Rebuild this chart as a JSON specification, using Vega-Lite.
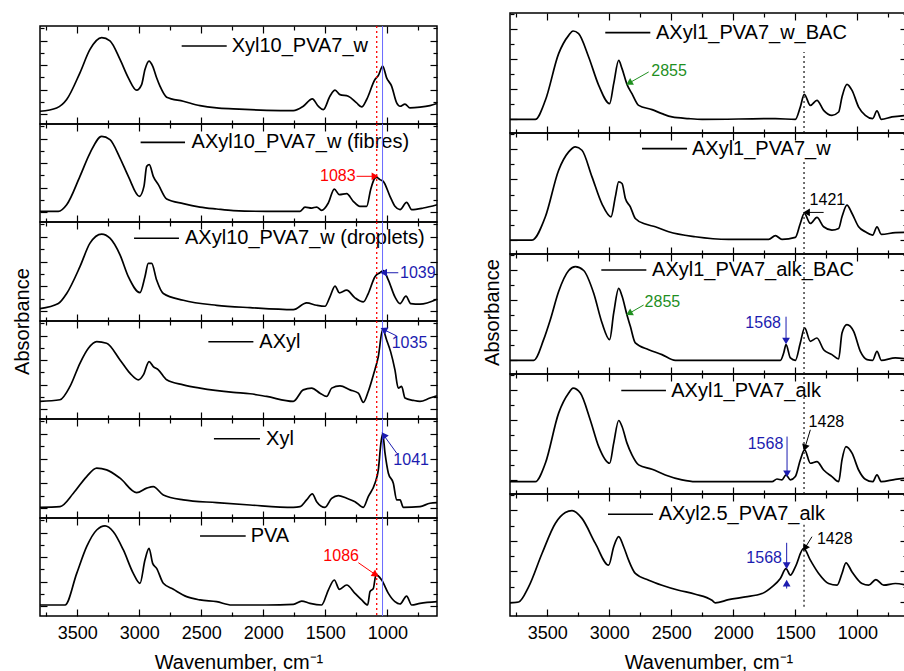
{
"$schema":"https://vega.github.io/schema/vega-lite/v6.json",
"autosize":{"type":"none"},
"padding":{"left":40,"top":13,"right":864,"bottom":658},
"config":{"font":"Liberation Sans","view":{"stroke":"#000","strokeWidth":1.5},
"axis":{"domain":false,"grid":false,"tickColor":"#000","tickWidth":1.2,"labelColor":"#000","titleColor":"#000","labelFontSize":18,"titleFontSize":20,"titleFontWeight":"normal","labelFont":"Liberation Sans","titleFont":"Liberation Sans"},
"text":{"font":"Liberation Sans"}},
"datasets":{
"S":[
{"p":"L1","x":3800,"y":1.04},{"p":"L1","x":3666,"y":1.31},{"p":"L1","x":3585,"y":2.0},{"p":"L1","x":3478,"y":4.18},{"p":"L1","x":3397,"y":6.09},{"p":"L1","x":3303,"y":7.05},{"p":"L1","x":3236,"y":6.78},{"p":"L1","x":3155,"y":5.27},{"p":"L1","x":3088,"y":3.77},{"p":"L1","x":3021,"y":2.76},{"p":"L1","x":2981,"y":3.22},{"p":"L1","x":2954,"y":4.45},{"p":"L1","x":2921,"y":5.14},{"p":"L1","x":2892,"y":4.73},{"p":"L1","x":2860,"y":3.77},{"p":"L1","x":2833,"y":3.09},{"p":"L1","x":2779,"y":2.19},{"p":"L1","x":2645,"y":1.86},{"p":"L1","x":2510,"y":1.5},{"p":"L1","x":2376,"y":1.31},{"p":"L1","x":2242,"y":1.23},{"p":"L1","x":1973,"y":1.12},{"p":"L1","x":1758,"y":1.09},{"p":"L1","x":1678,"y":1.45},{"p":"L1","x":1605,"y":2.05},{"p":"L1","x":1557,"y":1.45},{"p":"L1","x":1516,"y":1.17},{"p":"L1","x":1463,"y":2.27},{"p":"L1","x":1422,"y":2.76},{"p":"L1","x":1382,"y":2.4},{"p":"L1","x":1315,"y":2.27},{"p":"L1","x":1248,"y":1.72},{"p":"L1","x":1207,"y":1.39},{"p":"L1","x":1167,"y":2.0},{"p":"L1","x":1100,"y":3.63},{"p":"L1","x":1073,"y":3.96},{"p":"L1","x":1038,"y":4.73},{"p":"L1","x":1006,"y":3.77},{"p":"L1","x":966,"y":3.09},{"p":"L1","x":925,"y":1.72},{"p":"L1","x":898,"y":1.45},{"p":"L1","x":858,"y":1.62},{"p":"L1","x":818,"y":1.31},{"p":"L1","x":737,"y":1.37},{"p":"L1","x":657,"y":1.5},{"p":"L1","x":600,"y":1.67},
{"p":"L2","x":3800,"y":0.87},{"p":"L2","x":3652,"y":0.87},{"p":"L2","x":3585,"y":1.41},{"p":"L2","x":3478,"y":3.73},{"p":"L2","x":3397,"y":5.63},{"p":"L2","x":3303,"y":6.99},{"p":"L2","x":3236,"y":6.72},{"p":"L2","x":3155,"y":5.22},{"p":"L2","x":3088,"y":3.73},{"p":"L2","x":2999,"y":2.1},{"p":"L2","x":2962,"y":2.91},{"p":"L2","x":2940,"y":4.54},{"p":"L2","x":2919,"y":4.68},{"p":"L2","x":2887,"y":3.73},{"p":"L2","x":2846,"y":3.05},{"p":"L2","x":2779,"y":1.88},{"p":"L2","x":2645,"y":1.5},{"p":"L2","x":2510,"y":1.22},{"p":"L2","x":2376,"y":1.06},{"p":"L2","x":2242,"y":0.93},{"p":"L2","x":1973,"y":0.87},{"p":"L2","x":1704,"y":0.87},{"p":"L2","x":1664,"y":1.22},{"p":"L2","x":1610,"y":1.14},{"p":"L2","x":1570,"y":1.22},{"p":"L2","x":1530,"y":0.95},{"p":"L2","x":1476,"y":1.55},{"p":"L2","x":1428,"y":2.69},{"p":"L2","x":1387,"y":2.23},{"p":"L2","x":1328,"y":2.31},{"p":"L2","x":1275,"y":1.69},{"p":"L2","x":1221,"y":1.28},{"p":"L2","x":1167,"y":1.28},{"p":"L2","x":1135,"y":2.64},{"p":"L2","x":1100,"y":3.59},{"p":"L2","x":1085,"y":3.65},{"p":"L2","x":1060,"y":3.46},{"p":"L2","x":1033,"y":3.32},{"p":"L2","x":979,"y":2.1},{"p":"L2","x":939,"y":1.28},{"p":"L2","x":898,"y":1.01},{"p":"L2","x":845,"y":1.61},{"p":"L2","x":804,"y":1.01},{"p":"L2","x":710,"y":1.14},{"p":"L2","x":600,"y":1.41},
{"p":"L3","x":3800,"y":1.0},{"p":"L3","x":3652,"y":1.41},{"p":"L3","x":3585,"y":2.22},{"p":"L3","x":3478,"y":4.39},{"p":"L3","x":3397,"y":6.29},{"p":"L3","x":3303,"y":7.02},{"p":"L3","x":3236,"y":6.69},{"p":"L3","x":3155,"y":5.34},{"p":"L3","x":3088,"y":3.58},{"p":"L3","x":2994,"y":2.3},{"p":"L3","x":2954,"y":3.58},{"p":"L3","x":2927,"y":4.66},{"p":"L3","x":2900,"y":4.66},{"p":"L3","x":2860,"y":3.31},{"p":"L3","x":2806,"y":2.22},{"p":"L3","x":2645,"y":1.68},{"p":"L3","x":2376,"y":1.27},{"p":"L3","x":2107,"y":1.08},{"p":"L3","x":1758,"y":0.92},{"p":"L3","x":1651,"y":1.46},{"p":"L3","x":1570,"y":1.27},{"p":"L3","x":1503,"y":1.19},{"p":"L3","x":1463,"y":1.95},{"p":"L3","x":1422,"y":2.82},{"p":"L3","x":1387,"y":2.28},{"p":"L3","x":1328,"y":2.49},{"p":"L3","x":1261,"y":1.87},{"p":"L3","x":1194,"y":1.54},{"p":"L3","x":1154,"y":2.22},{"p":"L3","x":1100,"y":3.58},{"p":"L3","x":1060,"y":3.9},{"p":"L3","x":1033,"y":4.07},{"p":"L3","x":992,"y":3.31},{"p":"L3","x":939,"y":1.95},{"p":"L3","x":898,"y":1.41},{"p":"L3","x":850,"y":2.01},{"p":"L3","x":812,"y":1.41},{"p":"L3","x":737,"y":1.36},{"p":"L3","x":600,"y":1.76},
{"p":"L4","x":3800,"y":1.44},{"p":"L4","x":3639,"y":1.57},{"p":"L4","x":3558,"y":2.66},{"p":"L4","x":3478,"y":4.55},{"p":"L4","x":3410,"y":5.77},{"p":"L4","x":3343,"y":6.31},{"p":"L4","x":3263,"y":6.18},{"p":"L4","x":3155,"y":4.82},{"p":"L4","x":3075,"y":3.74},{"p":"L4","x":3007,"y":3.2},{"p":"L4","x":2967,"y":3.6},{"p":"L4","x":2921,"y":4.69},{"p":"L4","x":2887,"y":4.28},{"p":"L4","x":2846,"y":4.01},{"p":"L4","x":2779,"y":3.2},{"p":"L4","x":2645,"y":2.79},{"p":"L4","x":2510,"y":2.52},{"p":"L4","x":2242,"y":2.17},{"p":"L4","x":2107,"y":2.06},{"p":"L4","x":1973,"y":1.84},{"p":"L4","x":1758,"y":1.44},{"p":"L4","x":1678,"y":2.38},{"p":"L4","x":1610,"y":2.52},{"p":"L4","x":1543,"y":2.11},{"p":"L4","x":1489,"y":1.84},{"p":"L4","x":1449,"y":2.52},{"p":"L4","x":1382,"y":2.71},{"p":"L4","x":1301,"y":2.38},{"p":"L4","x":1234,"y":2.11},{"p":"L4","x":1194,"y":1.36},{"p":"L4","x":1154,"y":2.25},{"p":"L4","x":1113,"y":3.6},{"p":"L4","x":1073,"y":5.1},{"p":"L4","x":1038,"y":7.32},{"p":"L4","x":1006,"y":6.45},{"p":"L4","x":974,"y":5.5},{"p":"L4","x":939,"y":4.01},{"p":"L4","x":912,"y":2.52},{"p":"L4","x":885,"y":2.66},{"p":"L4","x":858,"y":1.71},{"p":"L4","x":791,"y":1.52},{"p":"L4","x":737,"y":1.44},{"p":"L4","x":657,"y":1.71},{"p":"L4","x":600,"y":1.9},
{"p":"L5","x":3800,"y":0.86},{"p":"L5","x":3639,"y":0.92},{"p":"L5","x":3531,"y":2.0},{"p":"L5","x":3424,"y":3.35},{"p":"L5","x":3343,"y":4.03},{"p":"L5","x":3263,"y":3.89},{"p":"L5","x":3155,"y":3.22},{"p":"L5","x":3021,"y":2.05},{"p":"L5","x":2940,"y":2.41},{"p":"L5","x":2887,"y":2.54},{"p":"L5","x":2806,"y":1.86},{"p":"L5","x":2645,"y":1.46},{"p":"L5","x":2376,"y":1.24},{"p":"L5","x":2107,"y":1.05},{"p":"L5","x":1758,"y":0.86},{"p":"L5","x":1704,"y":0.92},{"p":"L5","x":1651,"y":1.46},{"p":"L5","x":1605,"y":1.95},{"p":"L5","x":1570,"y":1.32},{"p":"L5","x":1503,"y":0.86},{"p":"L5","x":1449,"y":1.59},{"p":"L5","x":1395,"y":1.81},{"p":"L5","x":1328,"y":1.59},{"p":"L5","x":1261,"y":1.32},{"p":"L5","x":1194,"y":0.86},{"p":"L5","x":1154,"y":1.73},{"p":"L5","x":1100,"y":2.81},{"p":"L5","x":1073,"y":3.89},{"p":"L5","x":1052,"y":6.05},{"p":"L5","x":1038,"y":6.81},{"p":"L5","x":1019,"y":5.24},{"p":"L5","x":992,"y":3.62},{"p":"L5","x":952,"y":2.81},{"p":"L5","x":925,"y":1.46},{"p":"L5","x":898,"y":1.46},{"p":"L5","x":871,"y":0.86},{"p":"L5","x":737,"y":0.92},{"p":"L5","x":657,"y":1.19},{"p":"L5","x":600,"y":1.24},
{"p":"L6","x":3800,"y":0.9},{"p":"L6","x":3598,"y":0.9},{"p":"L6","x":3504,"y":3.48},{"p":"L6","x":3424,"y":5.66},{"p":"L6","x":3343,"y":7.02},{"p":"L6","x":3276,"y":7.35},{"p":"L6","x":3209,"y":6.88},{"p":"L6","x":3128,"y":5.39},{"p":"L6","x":3048,"y":3.48},{"p":"L6","x":2994,"y":2.67},{"p":"L6","x":2954,"y":4.57},{"p":"L6","x":2921,"y":5.52},{"p":"L6","x":2892,"y":4.3},{"p":"L6","x":2860,"y":3.89},{"p":"L6","x":2806,"y":2.67},{"p":"L6","x":2725,"y":2.18},{"p":"L6","x":2618,"y":1.58},{"p":"L6","x":2510,"y":1.31},{"p":"L6","x":2376,"y":1.17},{"p":"L6","x":2255,"y":0.9},{"p":"L6","x":1973,"y":0.9},{"p":"L6","x":1758,"y":0.95},{"p":"L6","x":1691,"y":1.22},{"p":"L6","x":1624,"y":1.03},{"p":"L6","x":1530,"y":0.9},{"p":"L6","x":1476,"y":2.12},{"p":"L6","x":1428,"y":2.94},{"p":"L6","x":1387,"y":2.18},{"p":"L6","x":1328,"y":2.53},{"p":"L6","x":1261,"y":1.85},{"p":"L6","x":1207,"y":1.31},{"p":"L6","x":1159,"y":0.9},{"p":"L6","x":1140,"y":1.99},{"p":"L6","x":1113,"y":2.26},{"p":"L6","x":1092,"y":3.35},{"p":"L6","x":1046,"y":2.94},{"p":"L6","x":992,"y":1.85},{"p":"L6","x":939,"y":1.17},{"p":"L6","x":898,"y":0.98},{"p":"L6","x":845,"y":1.63},{"p":"L6","x":804,"y":0.9},{"p":"L6","x":737,"y":1.03},{"p":"L6","x":600,"y":1.17},
{"p":"R1","x":3800,"y":0.91},{"p":"R1","x":3596,"y":0.91},{"p":"R1","x":3515,"y":2.18},{"p":"R1","x":3408,"y":5.29},{"p":"R1","x":3327,"y":6.51},{"p":"R1","x":3292,"y":6.8},{"p":"R1","x":3247,"y":6.62},{"p":"R1","x":3166,"y":5.07},{"p":"R1","x":3085,"y":3.18},{"p":"R1","x":2997,"y":1.96},{"p":"R1","x":2964,"y":3.29},{"p":"R1","x":2924,"y":4.84},{"p":"R1","x":2897,"y":4.29},{"p":"R1","x":2857,"y":3.24},{"p":"R1","x":2817,"y":2.62},{"p":"R1","x":2763,"y":1.84},{"p":"R1","x":2655,"y":1.56},{"p":"R1","x":2575,"y":1.29},{"p":"R1","x":2494,"y":1.07},{"p":"R1","x":2360,"y":0.96},{"p":"R1","x":2252,"y":0.91},{"p":"R1","x":1661,"y":0.96},{"p":"R1","x":1500,"y":0.91},{"p":"R1","x":1460,"y":1.73},{"p":"R1","x":1428,"y":2.58},{"p":"R1","x":1379,"y":1.84},{"p":"R1","x":1326,"y":2.18},{"p":"R1","x":1272,"y":1.51},{"p":"R1","x":1205,"y":1.18},{"p":"R1","x":1151,"y":1.4},{"p":"R1","x":1124,"y":2.4},{"p":"R1","x":1084,"y":3.24},{"p":"R1","x":1043,"y":2.84},{"p":"R1","x":990,"y":1.73},{"p":"R1","x":936,"y":1.18},{"p":"R1","x":877,"y":0.96},{"p":"R1","x":842,"y":1.47},{"p":"R1","x":807,"y":0.91},{"p":"R1","x":721,"y":1.07},{"p":"R1","x":600,"y":1.18},
{"p":"R2","x":3800,"y":0.92},{"p":"R2","x":3623,"y":0.92},{"p":"R2","x":3515,"y":2.46},{"p":"R2","x":3408,"y":5.54},{"p":"R2","x":3327,"y":6.75},{"p":"R2","x":3273,"y":7.08},{"p":"R2","x":3220,"y":6.86},{"p":"R2","x":3139,"y":5.1},{"p":"R2","x":3058,"y":3.3},{"p":"R2","x":2986,"y":2.46},{"p":"R2","x":2951,"y":3.78},{"p":"R2","x":2924,"y":4.77},{"p":"R2","x":2897,"y":4.66},{"p":"R2","x":2870,"y":3.67},{"p":"R2","x":2830,"y":3.12},{"p":"R2","x":2790,"y":2.35},{"p":"R2","x":2709,"y":1.98},{"p":"R2","x":2629,"y":1.8},{"p":"R2","x":2521,"y":1.47},{"p":"R2","x":2306,"y":1.14},{"p":"R2","x":2038,"y":0.97},{"p":"R2","x":1715,"y":0.97},{"p":"R2","x":1661,"y":1.21},{"p":"R2","x":1608,"y":0.97},{"p":"R2","x":1500,"y":1.1},{"p":"R2","x":1460,"y":2.02},{"p":"R2","x":1428,"y":2.68},{"p":"R2","x":1379,"y":2.02},{"p":"R2","x":1326,"y":2.42},{"p":"R2","x":1272,"y":1.8},{"p":"R2","x":1205,"y":1.58},{"p":"R2","x":1151,"y":1.69},{"p":"R2","x":1124,"y":2.46},{"p":"R2","x":1084,"y":3.23},{"p":"R2","x":1043,"y":2.68},{"p":"R2","x":990,"y":1.8},{"p":"R2","x":936,"y":1.47},{"p":"R2","x":877,"y":1.25},{"p":"R2","x":842,"y":1.8},{"p":"R2","x":807,"y":1.3},{"p":"R2","x":694,"y":1.41},{"p":"R2","x":600,"y":1.43},
{"p":"R3","x":3800,"y":0.91},{"p":"R3","x":3609,"y":0.91},{"p":"R3","x":3529,"y":2.29},{"p":"R3","x":3475,"y":3.62},{"p":"R3","x":3408,"y":5.5},{"p":"R3","x":3327,"y":6.9},{"p":"R3","x":3273,"y":7.16},{"p":"R3","x":3206,"y":6.9},{"p":"R3","x":3126,"y":5.4},{"p":"R3","x":3058,"y":3.4},{"p":"R3","x":2997,"y":2.29},{"p":"R3","x":2964,"y":4.07},{"p":"R3","x":2924,"y":5.71},{"p":"R3","x":2897,"y":5.2},{"p":"R3","x":2857,"y":3.93},{"p":"R3","x":2830,"y":3.18},{"p":"R3","x":2790,"y":2.07},{"p":"R3","x":2682,"y":1.62},{"p":"R3","x":2575,"y":1.29},{"p":"R3","x":2467,"y":0.91},{"p":"R3","x":1621,"y":0.91},{"p":"R3","x":1594,"y":1.4},{"p":"R3","x":1575,"y":1.96},{"p":"R3","x":1540,"y":1.07},{"p":"R3","x":1500,"y":0.91},{"p":"R3","x":1460,"y":2.07},{"p":"R3","x":1425,"y":3.07},{"p":"R3","x":1379,"y":2.18},{"p":"R3","x":1326,"y":2.4},{"p":"R3","x":1272,"y":1.62},{"p":"R3","x":1205,"y":1.29},{"p":"R3","x":1151,"y":1.0},{"p":"R3","x":1124,"y":2.73},{"p":"R3","x":1084,"y":3.29},{"p":"R3","x":1030,"y":2.84},{"p":"R3","x":976,"y":1.51},{"p":"R3","x":922,"y":0.96},{"p":"R3","x":877,"y":0.91},{"p":"R3","x":842,"y":1.51},{"p":"R3","x":807,"y":0.91},{"p":"R3","x":694,"y":1.07},{"p":"R3","x":600,"y":1.0},
{"p":"R4","x":3800,"y":0.82},{"p":"R4","x":3596,"y":0.82},{"p":"R4","x":3515,"y":2.05},{"p":"R4","x":3408,"y":5.39},{"p":"R4","x":3327,"y":6.73},{"p":"R4","x":3292,"y":7.06},{"p":"R4","x":3233,"y":6.73},{"p":"R4","x":3153,"y":4.94},{"p":"R4","x":3085,"y":3.16},{"p":"R4","x":2997,"y":2.05},{"p":"R4","x":2964,"y":3.39},{"p":"R4","x":2924,"y":4.9},{"p":"R4","x":2897,"y":4.5},{"p":"R4","x":2857,"y":3.39},{"p":"R4","x":2817,"y":2.61},{"p":"R4","x":2763,"y":1.94},{"p":"R4","x":2655,"y":1.65},{"p":"R4","x":2548,"y":1.27},{"p":"R4","x":2414,"y":0.94},{"p":"R4","x":2306,"y":0.82},{"p":"R4","x":1688,"y":0.82},{"p":"R4","x":1648,"y":1.0},{"p":"R4","x":1608,"y":0.94},{"p":"R4","x":1575,"y":1.27},{"p":"R4","x":1540,"y":0.94},{"p":"R4","x":1500,"y":1.16},{"p":"R4","x":1460,"y":2.27},{"p":"R4","x":1425,"y":2.94},{"p":"R4","x":1379,"y":2.05},{"p":"R4","x":1326,"y":2.16},{"p":"R4","x":1272,"y":1.6},{"p":"R4","x":1205,"y":1.16},{"p":"R4","x":1151,"y":0.82},{"p":"R4","x":1124,"y":2.27},{"p":"R4","x":1092,"y":3.16},{"p":"R4","x":1043,"y":2.72},{"p":"R4","x":990,"y":1.6},{"p":"R4","x":936,"y":0.98},{"p":"R4","x":877,"y":0.82},{"p":"R4","x":842,"y":1.27},{"p":"R4","x":807,"y":0.82},{"p":"R4","x":694,"y":0.98},{"p":"R4","x":600,"y":1.05},
{"p":"R5","x":3800,"y":0.86},{"p":"R5","x":3730,"y":0.92},{"p":"R5","x":3650,"y":1.91},{"p":"R5","x":3542,"y":4.1},{"p":"R5","x":3435,"y":6.07},{"p":"R5","x":3354,"y":6.78},{"p":"R5","x":3300,"y":6.91},{"p":"R5","x":3220,"y":6.4},{"p":"R5","x":3112,"y":4.76},{"p":"R5","x":3005,"y":3.33},{"p":"R5","x":2964,"y":4.54},{"p":"R5","x":2924,"y":5.2},{"p":"R5","x":2884,"y":4.54},{"p":"R5","x":2844,"y":3.66},{"p":"R5","x":2790,"y":2.79},{"p":"R5","x":2682,"y":2.35},{"p":"R5","x":2575,"y":2.02},{"p":"R5","x":2441,"y":1.69},{"p":"R5","x":2306,"y":1.43},{"p":"R5","x":2172,"y":1.03},{"p":"R5","x":2145,"y":0.86},{"p":"R5","x":2038,"y":1.07},{"p":"R5","x":1903,"y":1.25},{"p":"R5","x":1769,"y":1.47},{"p":"R5","x":1688,"y":1.91},{"p":"R5","x":1621,"y":2.46},{"p":"R5","x":1575,"y":3.11},{"p":"R5","x":1540,"y":2.68},{"p":"R5","x":1500,"y":3.22},{"p":"R5","x":1433,"y":4.43},{"p":"R5","x":1379,"y":3.66},{"p":"R5","x":1312,"y":2.79},{"p":"R5","x":1232,"y":2.13},{"p":"R5","x":1164,"y":2.02},{"p":"R5","x":1124,"y":2.79},{"p":"R5","x":1092,"y":3.49},{"p":"R5","x":1043,"y":2.89},{"p":"R5","x":963,"y":2.13},{"p":"R5","x":909,"y":2.02},{"p":"R5","x":851,"y":2.39},{"p":"R5","x":788,"y":2.02},{"p":"R5","x":694,"y":2.13},{"p":"R5","x":600,"y":2.02}
],
"G":[
{"p":"L1","x":2658,"x2":2295,"tx":2255,"y":6.37,"t":"Xyl10_PVA7_w"},
{"p":"L2","x":2989,"x2":2631,"tx":2578,"y":6.5,"t":"AXyl10_PVA7_w (fibres)"},
{"p":"L3","x":3042,"x2":2680,"tx":2631,"y":6.69,"t":"AXyl10_PVA7_w (droplets)"},
{"p":"L4","x":2443,"x2":2080,"tx":2032,"y":6.31,"t":"AXyl"},
{"p":"L5","x":2398,"x2":2027,"tx":1978,"y":6.41,"t":"Xyl"},
{"p":"L6","x":2510,"x2":2142,"tx":2102,"y":6.53,"t":"PVA"},
{"p":"R1","x":3032,"x2":2669,"tx":2623,"y":6.69,"t":"AXyl1_PVA7_w_BAC"},
{"p":"R2","x":2736,"x2":2373,"tx":2333,"y":6.97,"t":"AXyl1_PVA7_w"},
{"p":"R3","x":3064,"x2":2701,"tx":2655,"y":6.93,"t":"AXyl1_PVA7_alk_BAC"},
{"p":"R4","x":2903,"x2":2543,"tx":2500,"y":6.9,"t":"AXyl1_PVA7_alk"},
{"p":"R5","x":3010,"x2":2647,"tx":2602,"y":6.67,"t":"AXyl2.5_PVA7_alk"}
],
"N":[
{"p":"L2","x":1543,"y":3.73,"t":"1083","c":"red"},
{"p":"L3","x":898,"y":3.9,"t":"1039","c":"blue"},
{"p":"L4","x":965,"y":6.18,"t":"1035","c":"blue"},
{"p":"L5","x":952,"y":4.7,"t":"1041","c":"blue"},
{"p":"L6","x":1516,"y":4.93,"t":"1086","c":"red"},
{"p":"R1","x":2661,"y":4.13,"t":"2855","c":"green"},
{"p":"R2","x":1385,"y":3.56,"t":"1421","c":"black"},
{"p":"R3","x":2715,"y":4.82,"t":"2855","c":"green"},
{"p":"R3","x":1903,"y":3.38,"t":"1568","c":"blue"},
{"p":"R4","x":1393,"y":4.83,"t":"1428","c":"black"},
{"p":"R4","x":1884,"y":3.34,"t":"1568","c":"blue"},
{"p":"R5","x":1326,"y":5.02,"t":"1428","c":"black"},
{"p":"R5","x":1895,"y":3.82,"t":"1568","c":"blue"}
],
"A":[
{"p":"L2","x":1248,"y":3.73,"x2":1100,"y2":3.73,"c":"red","ang":90},
{"p":"L3","x":912,"y":3.9,"x2":1030,"y2":3.9,"c":"blue","ang":270},
{"p":"L4","x":925,"y":6.78,"x2":1030,"y2":7.3,"c":"blue","ang":296},
{"p":"L5","x":925,"y":5.24,"x2":1030,"y2":6.7,"c":"blue","ang":324},
{"p":"L6","x":1234,"y":4.35,"x2":1095,"y2":3.37,"c":"red","ang":125},
{"p":"R1","x":2682,"y":4.07,"x2":2840,"y2":3.33,"c":"green","ang":241},
{"p":"R2","x":1272,"y":2.75,"x2":1410,"y2":2.75,"c":"black","ang":270},
{"p":"R3","x":2723,"y":4.6,"x2":2840,"y2":4.04,"c":"green","ang":241},
{"p":"R3","x":1575,"y":3.82,"x2":1575,"y2":2.2,"c":"blue","ang":180},
{"p":"R4","x":1379,"y":4.28,"x2":1423,"y2":3.08,"c":"black","ang":197},
{"p":"R4","x":1567,"y":3.83,"x2":1567,"y2":1.35,"c":"blue","ang":180},
{"p":"R5","x":1366,"y":5.2,"x2":1423,"y2":4.45,"c":"black","ang":212},
{"p":"R5","x":1570,"y":4.8,"x2":1570,"y2":3.3,"c":"blue","ang":180},
{"p":"R5","x":1570,"y":1.8,"x2":1570,"y2":2.15,"c":"blue","ang":0}
],
"D":[
{"p":"R1","x":1430,"y":0,"y2":5.4},
{"p":"R2","x":1430,"y":0,"y2":6.2},
{"p":"R3","x":1430,"y":0,"y2":8},
{"p":"R4","x":1430,"y":0,"y2":8},
{"p":"R5","x":1430,"y":0.6,"y2":6.07}
]
},
"hconcat":[
{"vconcat":[
{"width":397,"height":13,"data":{"values":[{}]},"mark":{"type":"point","opacity":0},"view":{"stroke":null}},
{"height":98,"width":397,"layer":[
{"data":{"name":"S"},"transform":[{"filter":"datum.p==='L1'"}],"mark":{"type":"line","color":"#000","strokeWidth":1.7,"interpolate":"monotone"},"encoding":{"x":{"field":"x","type":"quantitative","scale":{"domain":[600,3800],"reverse":true,"nice":false,"zero":false},"axis":{"orient":"bottom","values":[3750,3500,3250,3000,2750,2500,2250,2000,1750,1500,1250,1000,750],"tickSize":{"condition":{"test":"datum.value % 500 === 0","value":-7},"value":-4},"labels":false,"title":null}},"y":{"field":"y","type":"quantitative","scale":{"domain":[0,8],"nice":false,"zero":false},"axis":{"orient":"left","values":[0.8,1.8,2.8,3.8,4.8,5.8,6.8,7.8],"tickSize":{"condition":{"test":"round(datum.value) % 2 === 1","value":-7},"value":-4},"labels":false,"title":null}},"order":{"field":"x","sort":"descending"}}},
{"data":{"name":"G"},"transform":[{"filter":"datum.p==='L1'"}],"mark":{"type":"rule","color":"#000","strokeWidth":1.6},"encoding":{"x":{"field":"x","type":"quantitative","axis":{"orient":"top","values":[3750,3500,3250,3000,2750,2500,2250,2000,1750,1500,1250,1000,750],"tickSize":{"condition":{"test":"datum.value % 500 === 0","value":-7},"value":-4},"labels":false,"title":null}},"x2":{"field":"x2"},"y":{"field":"y","type":"quantitative","axis":{"orient":"right","values":[0.8,1.8,2.8,3.8,4.8,5.8,6.8,7.8],"tickSize":{"condition":{"test":"round(datum.value) % 2 === 1","value":-7},"value":-4},"labels":false,"title":null}}}},
{"data":{"name":"G"},"transform":[{"filter":"datum.p==='L1'"}],"mark":{"type":"text","align":"left","baseline":"middle","fontSize":20},"encoding":{"x":{"field":"tx","type":"quantitative","axis":null},"y":{"field":"y","type":"quantitative","axis":null},"text":{"field":"t"}}},
{"data":{"values":[{"x":1086}]},"mark":{"type":"rule","color":"#ff0000","strokeWidth":1.3,"strokeDash":[2,3]},"encoding":{"x":{"field":"x","type":"quantitative","axis":null}}},
{"data":{"values":[{"x":1039}]},"mark":{"type":"rule","color":"#6a6aff","strokeWidth":1},"encoding":{"x":{"field":"x","type":"quantitative","axis":null}}}
],"resolve":{"axis":{"x":"independent","y":"independent"}}},
{"height":98,"width":397,"layer":[
{"data":{"name":"S"},"transform":[{"filter":"datum.p==='L2'"}],"mark":{"type":"line","color":"#000","strokeWidth":1.7,"interpolate":"monotone"},"encoding":{"x":{"field":"x","type":"quantitative","scale":{"domain":[600,3800],"reverse":true,"nice":false,"zero":false},"axis":{"orient":"bottom","values":[3750,3500,3250,3000,2750,2500,2250,2000,1750,1500,1250,1000,750],"tickSize":{"condition":{"test":"datum.value % 500 === 0","value":-7},"value":-4},"labels":false,"title":null}},"y":{"field":"y","type":"quantitative","scale":{"domain":[0,8],"nice":false,"zero":false},"axis":{"orient":"left","values":[0.8,1.8,2.8,3.8,4.8,5.8,6.8,7.8],"tickSize":{"condition":{"test":"round(datum.value) % 2 === 1","value":-7},"value":-4},"labels":false,"title":null}},"order":{"field":"x","sort":"descending"}}},
{"data":{"name":"G"},"transform":[{"filter":"datum.p==='L2'"}],"mark":{"type":"rule","color":"#000","strokeWidth":1.6},"encoding":{"x":{"field":"x","type":"quantitative","axis":{"orient":"top","values":[3750,3500,3250,3000,2750,2500,2250,2000,1750,1500,1250,1000,750],"tickSize":{"condition":{"test":"datum.value % 500 === 0","value":-7},"value":-4},"labels":false,"title":null}},"x2":{"field":"x2"},"y":{"field":"y","type":"quantitative","axis":{"orient":"right","values":[0.8,1.8,2.8,3.8,4.8,5.8,6.8,7.8],"tickSize":{"condition":{"test":"round(datum.value) % 2 === 1","value":-7},"value":-4},"labels":false,"title":null}}}},
{"data":{"name":"G"},"transform":[{"filter":"datum.p==='L2'"}],"mark":{"type":"text","align":"left","baseline":"middle","fontSize":20},"encoding":{"x":{"field":"tx","type":"quantitative","axis":null},"y":{"field":"y","type":"quantitative","axis":null},"text":{"field":"t"}}},
{"data":{"values":[{"x":1086}]},"mark":{"type":"rule","color":"#ff0000","strokeWidth":1.3,"strokeDash":[2,3]},"encoding":{"x":{"field":"x","type":"quantitative","axis":null}}},
{"data":{"values":[{"x":1039}]},"mark":{"type":"rule","color":"#6a6aff","strokeWidth":1},"encoding":{"x":{"field":"x","type":"quantitative","axis":null}}},
{"data":{"name":"N"},"transform":[{"filter":"datum.p==='L2'"}],"mark":{"type":"text","align":"left","baseline":"middle","fontSize":16},"encoding":{"x":{"field":"x","type":"quantitative","axis":null},"y":{"field":"y","type":"quantitative","axis":null},"text":{"field":"t"},"color":{"field":"c","type":"nominal","scale":{"domain":["red","blue","green","black"],"range":["#ff0000","#1c1cb0","#1f8f1f","#000000"]},"legend":null}}},
{"data":{"name":"A"},"transform":[{"filter":"datum.p==='L2'"}],"mark":{"type":"rule","strokeWidth":1},"encoding":{"x":{"field":"x","type":"quantitative","axis":null},"y":{"field":"y","type":"quantitative","axis":null},"x2":{"field":"x2"},"y2":{"field":"y2"},"color":{"field":"c","type":"nominal","scale":{"domain":["red","blue","green","black"],"range":["#ff0000","#1c1cb0","#1f8f1f","#000000"]},"legend":null}}},
{"data":{"name":"A"},"transform":[{"filter":"datum.p==='L2'"}],"mark":{"type":"point","shape":"triangle-up","filled":true,"size":60,"opacity":1},"encoding":{"x":{"field":"x2","type":"quantitative","axis":null},"y":{"field":"y2","type":"quantitative","axis":null},"angle":{"field":"ang","type":"quantitative","scale":null},"color":{"field":"c","type":"nominal","scale":{"domain":["red","blue","green","black"],"range":["#ff0000","#1c1cb0","#1f8f1f","#000000"]},"legend":null}}}
],"resolve":{"axis":{"x":"independent","y":"independent"}}},
{"height":99,"width":397,"layer":[
{"data":{"name":"S"},"transform":[{"filter":"datum.p==='L3'"}],"mark":{"type":"line","color":"#000","strokeWidth":1.7,"interpolate":"monotone"},"encoding":{"x":{"field":"x","type":"quantitative","scale":{"domain":[600,3800],"reverse":true,"nice":false,"zero":false},"axis":{"orient":"bottom","values":[3750,3500,3250,3000,2750,2500,2250,2000,1750,1500,1250,1000,750],"tickSize":{"condition":{"test":"datum.value % 500 === 0","value":-7},"value":-4},"labels":false,"title":null}},"y":{"field":"y","type":"quantitative","scale":{"domain":[0,8],"nice":false,"zero":false},"axis":{"orient":"left","values":[0.8,1.8,2.8,3.8,4.8,5.8,6.8,7.8],"tickSize":{"condition":{"test":"round(datum.value) % 2 === 1","value":-7},"value":-4},"labels":false,"title":"Absorbance","titleX":-12,"titleY":99,"titleAngle":270,"titleAlign":"center","titleBaseline":"alphabetic"}},"order":{"field":"x","sort":"descending"}}},
{"data":{"name":"G"},"transform":[{"filter":"datum.p==='L3'"}],"mark":{"type":"rule","color":"#000","strokeWidth":1.6},"encoding":{"x":{"field":"x","type":"quantitative","axis":{"orient":"top","values":[3750,3500,3250,3000,2750,2500,2250,2000,1750,1500,1250,1000,750],"tickSize":{"condition":{"test":"datum.value % 500 === 0","value":-7},"value":-4},"labels":false,"title":null}},"x2":{"field":"x2"},"y":{"field":"y","type":"quantitative","axis":{"orient":"right","values":[0.8,1.8,2.8,3.8,4.8,5.8,6.8,7.8],"tickSize":{"condition":{"test":"round(datum.value) % 2 === 1","value":-7},"value":-4},"labels":false,"title":null}}}},
{"data":{"name":"G"},"transform":[{"filter":"datum.p==='L3'"}],"mark":{"type":"text","align":"left","baseline":"middle","fontSize":20},"encoding":{"x":{"field":"tx","type":"quantitative","axis":null},"y":{"field":"y","type":"quantitative","axis":null},"text":{"field":"t"}}},
{"data":{"values":[{"x":1086}]},"mark":{"type":"rule","color":"#ff0000","strokeWidth":1.3,"strokeDash":[2,3]},"encoding":{"x":{"field":"x","type":"quantitative","axis":null}}},
{"data":{"values":[{"x":1039}]},"mark":{"type":"rule","color":"#6a6aff","strokeWidth":1},"encoding":{"x":{"field":"x","type":"quantitative","axis":null}}},
{"data":{"name":"N"},"transform":[{"filter":"datum.p==='L3'"}],"mark":{"type":"text","align":"left","baseline":"middle","fontSize":16},"encoding":{"x":{"field":"x","type":"quantitative","axis":null},"y":{"field":"y","type":"quantitative","axis":null},"text":{"field":"t"},"color":{"field":"c","type":"nominal","scale":{"domain":["red","blue","green","black"],"range":["#ff0000","#1c1cb0","#1f8f1f","#000000"]},"legend":null}}},
{"data":{"name":"A"},"transform":[{"filter":"datum.p==='L3'"}],"mark":{"type":"rule","strokeWidth":1},"encoding":{"x":{"field":"x","type":"quantitative","axis":null},"y":{"field":"y","type":"quantitative","axis":null},"x2":{"field":"x2"},"y2":{"field":"y2"},"color":{"field":"c","type":"nominal","scale":{"domain":["red","blue","green","black"],"range":["#ff0000","#1c1cb0","#1f8f1f","#000000"]},"legend":null}}},
{"data":{"name":"A"},"transform":[{"filter":"datum.p==='L3'"}],"mark":{"type":"point","shape":"triangle-up","filled":true,"size":60,"opacity":1},"encoding":{"x":{"field":"x2","type":"quantitative","axis":null},"y":{"field":"y2","type":"quantitative","axis":null},"angle":{"field":"ang","type":"quantitative","scale":null},"color":{"field":"c","type":"nominal","scale":{"domain":["red","blue","green","black"],"range":["#ff0000","#1c1cb0","#1f8f1f","#000000"]},"legend":null}}}
],"resolve":{"axis":{"x":"independent","y":"independent"}}},
{"height":98,"width":397,"layer":[
{"data":{"name":"S"},"transform":[{"filter":"datum.p==='L4'"}],"mark":{"type":"line","color":"#000","strokeWidth":1.7,"interpolate":"monotone"},"encoding":{"x":{"field":"x","type":"quantitative","scale":{"domain":[600,3800],"reverse":true,"nice":false,"zero":false},"axis":{"orient":"bottom","values":[3750,3500,3250,3000,2750,2500,2250,2000,1750,1500,1250,1000,750],"tickSize":{"condition":{"test":"datum.value % 500 === 0","value":-7},"value":-4},"labels":false,"title":null}},"y":{"field":"y","type":"quantitative","scale":{"domain":[0,8],"nice":false,"zero":false},"axis":{"orient":"left","values":[0.8,1.8,2.8,3.8,4.8,5.8,6.8,7.8],"tickSize":{"condition":{"test":"round(datum.value) % 2 === 1","value":-7},"value":-4},"labels":false,"title":null}},"order":{"field":"x","sort":"descending"}}},
{"data":{"name":"G"},"transform":[{"filter":"datum.p==='L4'"}],"mark":{"type":"rule","color":"#000","strokeWidth":1.6},"encoding":{"x":{"field":"x","type":"quantitative","axis":{"orient":"top","values":[3750,3500,3250,3000,2750,2500,2250,2000,1750,1500,1250,1000,750],"tickSize":{"condition":{"test":"datum.value % 500 === 0","value":-7},"value":-4},"labels":false,"title":null}},"x2":{"field":"x2"},"y":{"field":"y","type":"quantitative","axis":{"orient":"right","values":[0.8,1.8,2.8,3.8,4.8,5.8,6.8,7.8],"tickSize":{"condition":{"test":"round(datum.value) % 2 === 1","value":-7},"value":-4},"labels":false,"title":null}}}},
{"data":{"name":"G"},"transform":[{"filter":"datum.p==='L4'"}],"mark":{"type":"text","align":"left","baseline":"middle","fontSize":20},"encoding":{"x":{"field":"tx","type":"quantitative","axis":null},"y":{"field":"y","type":"quantitative","axis":null},"text":{"field":"t"}}},
{"data":{"values":[{"x":1086}]},"mark":{"type":"rule","color":"#ff0000","strokeWidth":1.3,"strokeDash":[2,3]},"encoding":{"x":{"field":"x","type":"quantitative","axis":null}}},
{"data":{"values":[{"x":1039}]},"mark":{"type":"rule","color":"#6a6aff","strokeWidth":1},"encoding":{"x":{"field":"x","type":"quantitative","axis":null}}},
{"data":{"name":"N"},"transform":[{"filter":"datum.p==='L4'"}],"mark":{"type":"text","align":"left","baseline":"middle","fontSize":16},"encoding":{"x":{"field":"x","type":"quantitative","axis":null},"y":{"field":"y","type":"quantitative","axis":null},"text":{"field":"t"},"color":{"field":"c","type":"nominal","scale":{"domain":["red","blue","green","black"],"range":["#ff0000","#1c1cb0","#1f8f1f","#000000"]},"legend":null}}},
{"data":{"name":"A"},"transform":[{"filter":"datum.p==='L4'"}],"mark":{"type":"rule","strokeWidth":1},"encoding":{"x":{"field":"x","type":"quantitative","axis":null},"y":{"field":"y","type":"quantitative","axis":null},"x2":{"field":"x2"},"y2":{"field":"y2"},"color":{"field":"c","type":"nominal","scale":{"domain":["red","blue","green","black"],"range":["#ff0000","#1c1cb0","#1f8f1f","#000000"]},"legend":null}}},
{"data":{"name":"A"},"transform":[{"filter":"datum.p==='L4'"}],"mark":{"type":"point","shape":"triangle-up","filled":true,"size":60,"opacity":1},"encoding":{"x":{"field":"x2","type":"quantitative","axis":null},"y":{"field":"y2","type":"quantitative","axis":null},"angle":{"field":"ang","type":"quantitative","scale":null},"color":{"field":"c","type":"nominal","scale":{"domain":["red","blue","green","black"],"range":["#ff0000","#1c1cb0","#1f8f1f","#000000"]},"legend":null}}}
],"resolve":{"axis":{"x":"independent","y":"independent"}}},
{"height":99,"width":397,"layer":[
{"data":{"name":"S"},"transform":[{"filter":"datum.p==='L5'"}],"mark":{"type":"line","color":"#000","strokeWidth":1.7,"interpolate":"monotone"},"encoding":{"x":{"field":"x","type":"quantitative","scale":{"domain":[600,3800],"reverse":true,"nice":false,"zero":false},"axis":{"orient":"bottom","values":[3750,3500,3250,3000,2750,2500,2250,2000,1750,1500,1250,1000,750],"tickSize":{"condition":{"test":"datum.value % 500 === 0","value":-7},"value":-4},"labels":false,"title":null}},"y":{"field":"y","type":"quantitative","scale":{"domain":[0,8],"nice":false,"zero":false},"axis":{"orient":"left","values":[0.8,1.8,2.8,3.8,4.8,5.8,6.8,7.8],"tickSize":{"condition":{"test":"round(datum.value) % 2 === 1","value":-7},"value":-4},"labels":false,"title":null}},"order":{"field":"x","sort":"descending"}}},
{"data":{"name":"G"},"transform":[{"filter":"datum.p==='L5'"}],"mark":{"type":"rule","color":"#000","strokeWidth":1.6},"encoding":{"x":{"field":"x","type":"quantitative","axis":{"orient":"top","values":[3750,3500,3250,3000,2750,2500,2250,2000,1750,1500,1250,1000,750],"tickSize":{"condition":{"test":"datum.value % 500 === 0","value":-7},"value":-4},"labels":false,"title":null}},"x2":{"field":"x2"},"y":{"field":"y","type":"quantitative","axis":{"orient":"right","values":[0.8,1.8,2.8,3.8,4.8,5.8,6.8,7.8],"tickSize":{"condition":{"test":"round(datum.value) % 2 === 1","value":-7},"value":-4},"labels":false,"title":null}}}},
{"data":{"name":"G"},"transform":[{"filter":"datum.p==='L5'"}],"mark":{"type":"text","align":"left","baseline":"middle","fontSize":20},"encoding":{"x":{"field":"tx","type":"quantitative","axis":null},"y":{"field":"y","type":"quantitative","axis":null},"text":{"field":"t"}}},
{"data":{"values":[{"x":1086}]},"mark":{"type":"rule","color":"#ff0000","strokeWidth":1.3,"strokeDash":[2,3]},"encoding":{"x":{"field":"x","type":"quantitative","axis":null}}},
{"data":{"values":[{"x":1039}]},"mark":{"type":"rule","color":"#6a6aff","strokeWidth":1},"encoding":{"x":{"field":"x","type":"quantitative","axis":null}}},
{"data":{"name":"N"},"transform":[{"filter":"datum.p==='L5'"}],"mark":{"type":"text","align":"left","baseline":"middle","fontSize":16},"encoding":{"x":{"field":"x","type":"quantitative","axis":null},"y":{"field":"y","type":"quantitative","axis":null},"text":{"field":"t"},"color":{"field":"c","type":"nominal","scale":{"domain":["red","blue","green","black"],"range":["#ff0000","#1c1cb0","#1f8f1f","#000000"]},"legend":null}}},
{"data":{"name":"A"},"transform":[{"filter":"datum.p==='L5'"}],"mark":{"type":"rule","strokeWidth":1},"encoding":{"x":{"field":"x","type":"quantitative","axis":null},"y":{"field":"y","type":"quantitative","axis":null},"x2":{"field":"x2"},"y2":{"field":"y2"},"color":{"field":"c","type":"nominal","scale":{"domain":["red","blue","green","black"],"range":["#ff0000","#1c1cb0","#1f8f1f","#000000"]},"legend":null}}},
{"data":{"name":"A"},"transform":[{"filter":"datum.p==='L5'"}],"mark":{"type":"point","shape":"triangle-up","filled":true,"size":60,"opacity":1},"encoding":{"x":{"field":"x2","type":"quantitative","axis":null},"y":{"field":"y2","type":"quantitative","axis":null},"angle":{"field":"ang","type":"quantitative","scale":null},"color":{"field":"c","type":"nominal","scale":{"domain":["red","blue","green","black"],"range":["#ff0000","#1c1cb0","#1f8f1f","#000000"]},"legend":null}}}
],"resolve":{"axis":{"x":"independent","y":"independent"}}},
{"height":98,"width":397,"layer":[
{"data":{"name":"S"},"transform":[{"filter":"datum.p==='L6'"}],"mark":{"type":"line","color":"#000","strokeWidth":1.7,"interpolate":"monotone"},"encoding":{"x":{"field":"x","type":"quantitative","scale":{"domain":[600,3800],"reverse":true,"nice":false,"zero":false},"axis":{"orient":"bottom","values":[3750,3500,3250,3000,2750,2500,2250,2000,1750,1500,1250,1000,750],"tickSize":{"condition":{"test":"datum.value % 500 === 0","value":-7},"value":-4},"format":"d","labelExpr":"datum.value % 500 === 0 ? datum.label : ''","labelBaseline":"alphabetic","labelPadding":29,"title":"Wavenumber, cm⁻¹","titleX":198.5,"titleY":52,"titleAlign":"center","titleBaseline":"alphabetic"}},"y":{"field":"y","type":"quantitative","scale":{"domain":[0,8],"nice":false,"zero":false},"axis":{"orient":"left","values":[0.8,1.8,2.8,3.8,4.8,5.8,6.8,7.8],"tickSize":{"condition":{"test":"round(datum.value) % 2 === 1","value":-7},"value":-4},"labels":false,"title":null}},"order":{"field":"x","sort":"descending"}}},
{"data":{"name":"G"},"transform":[{"filter":"datum.p==='L6'"}],"mark":{"type":"rule","color":"#000","strokeWidth":1.6},"encoding":{"x":{"field":"x","type":"quantitative","axis":{"orient":"top","values":[3750,3500,3250,3000,2750,2500,2250,2000,1750,1500,1250,1000,750],"tickSize":{"condition":{"test":"datum.value % 500 === 0","value":-7},"value":-4},"labels":false,"title":null}},"x2":{"field":"x2"},"y":{"field":"y","type":"quantitative","axis":{"orient":"right","values":[0.8,1.8,2.8,3.8,4.8,5.8,6.8,7.8],"tickSize":{"condition":{"test":"round(datum.value) % 2 === 1","value":-7},"value":-4},"labels":false,"title":null}}}},
{"data":{"name":"G"},"transform":[{"filter":"datum.p==='L6'"}],"mark":{"type":"text","align":"left","baseline":"middle","fontSize":20},"encoding":{"x":{"field":"tx","type":"quantitative","axis":null},"y":{"field":"y","type":"quantitative","axis":null},"text":{"field":"t"}}},
{"data":{"values":[{"x":1086}]},"mark":{"type":"rule","color":"#ff0000","strokeWidth":1.3,"strokeDash":[2,3]},"encoding":{"x":{"field":"x","type":"quantitative","axis":null}}},
{"data":{"values":[{"x":1039}]},"mark":{"type":"rule","color":"#6a6aff","strokeWidth":1},"encoding":{"x":{"field":"x","type":"quantitative","axis":null}}},
{"data":{"name":"N"},"transform":[{"filter":"datum.p==='L6'"}],"mark":{"type":"text","align":"left","baseline":"middle","fontSize":16},"encoding":{"x":{"field":"x","type":"quantitative","axis":null},"y":{"field":"y","type":"quantitative","axis":null},"text":{"field":"t"},"color":{"field":"c","type":"nominal","scale":{"domain":["red","blue","green","black"],"range":["#ff0000","#1c1cb0","#1f8f1f","#000000"]},"legend":null}}},
{"data":{"name":"A"},"transform":[{"filter":"datum.p==='L6'"}],"mark":{"type":"rule","strokeWidth":1},"encoding":{"x":{"field":"x","type":"quantitative","axis":null},"y":{"field":"y","type":"quantitative","axis":null},"x2":{"field":"x2"},"y2":{"field":"y2"},"color":{"field":"c","type":"nominal","scale":{"domain":["red","blue","green","black"],"range":["#ff0000","#1c1cb0","#1f8f1f","#000000"]},"legend":null}}},
{"data":{"name":"A"},"transform":[{"filter":"datum.p==='L6'"}],"mark":{"type":"point","shape":"triangle-up","filled":true,"size":60,"opacity":1},"encoding":{"x":{"field":"x2","type":"quantitative","axis":null},"y":{"field":"y2","type":"quantitative","axis":null},"angle":{"field":"ang","type":"quantitative","scale":null},"color":{"field":"c","type":"nominal","scale":{"domain":["red","blue","green","black"],"range":["#ff0000","#1c1cb0","#1f8f1f","#000000"]},"legend":null}}}
],"resolve":{"axis":{"x":"independent","y":"independent"}}}
],"spacing":0,"bounds":"flush"},
{"vconcat":[
{"height":120,"width":397,"layer":[
{"data":{"name":"S"},"transform":[{"filter":"datum.p==='R1'"}],"mark":{"type":"line","color":"#000","strokeWidth":1.7,"interpolate":"monotone"},"encoding":{"x":{"field":"x","type":"quantitative","scale":{"domain":[600,3800],"reverse":true,"nice":false,"zero":false},"axis":{"orient":"bottom","values":[3750,3500,3250,3000,2750,2500,2250,2000,1750,1500,1250,1000,750],"tickSize":{"condition":{"test":"datum.value % 500 === 0","value":-7},"value":-4},"labels":false,"title":null}},"y":{"field":"y","type":"quantitative","scale":{"domain":[0,8],"nice":false,"zero":false},"axis":{"orient":"left","values":[0.93,1.93,2.93,3.93,4.93,5.93,6.93,7.93],"tickSize":{"condition":{"test":"round(datum.value) % 2 === 1","value":-7},"value":-4},"labels":false,"title":null}},"order":{"field":"x","sort":"descending"}}},
{"data":{"name":"G"},"transform":[{"filter":"datum.p==='R1'"}],"mark":{"type":"rule","color":"#000","strokeWidth":1.6},"encoding":{"x":{"field":"x","type":"quantitative","axis":{"orient":"top","values":[3750,3500,3250,3000,2750,2500,2250,2000,1750,1500,1250,1000,750],"tickSize":{"condition":{"test":"datum.value % 500 === 0","value":-7},"value":-4},"labels":false,"title":null}},"x2":{"field":"x2"},"y":{"field":"y","type":"quantitative","axis":{"orient":"right","values":[0.93,1.93,2.93,3.93,4.93,5.93,6.93,7.93],"tickSize":{"condition":{"test":"round(datum.value) % 2 === 1","value":-7},"value":-4},"labels":false,"title":null}}}},
{"data":{"name":"G"},"transform":[{"filter":"datum.p==='R1'"}],"mark":{"type":"text","align":"left","baseline":"middle","fontSize":20},"encoding":{"x":{"field":"tx","type":"quantitative","axis":null},"y":{"field":"y","type":"quantitative","axis":null},"text":{"field":"t"}}},
{"data":{"name":"D"},"transform":[{"filter":"datum.p==='R1'"}],"mark":{"type":"rule","color":"#333","strokeWidth":1.4,"strokeDash":[2,3]},"encoding":{"x":{"field":"x","type":"quantitative","axis":null},"y":{"field":"y","type":"quantitative","axis":null},"y2":{"field":"y2"}}},
{"data":{"name":"N"},"transform":[{"filter":"datum.p==='R1'"}],"mark":{"type":"text","align":"left","baseline":"middle","fontSize":16},"encoding":{"x":{"field":"x","type":"quantitative","axis":null},"y":{"field":"y","type":"quantitative","axis":null},"text":{"field":"t"},"color":{"field":"c","type":"nominal","scale":{"domain":["red","blue","green","black"],"range":["#ff0000","#1c1cb0","#1f8f1f","#000000"]},"legend":null}}},
{"data":{"name":"A"},"transform":[{"filter":"datum.p==='R1'"}],"mark":{"type":"rule","strokeWidth":1},"encoding":{"x":{"field":"x","type":"quantitative","axis":null},"y":{"field":"y","type":"quantitative","axis":null},"x2":{"field":"x2"},"y2":{"field":"y2"},"color":{"field":"c","type":"nominal","scale":{"domain":["red","blue","green","black"],"range":["#ff0000","#1c1cb0","#1f8f1f","#000000"]},"legend":null}}},
{"data":{"name":"A"},"transform":[{"filter":"datum.p==='R1'"}],"mark":{"type":"point","shape":"triangle-up","filled":true,"size":60,"opacity":1},"encoding":{"x":{"field":"x2","type":"quantitative","axis":null},"y":{"field":"y2","type":"quantitative","axis":null},"angle":{"field":"ang","type":"quantitative","scale":null},"color":{"field":"c","type":"nominal","scale":{"domain":["red","blue","green","black"],"range":["#ff0000","#1c1cb0","#1f8f1f","#000000"]},"legend":null}}}
],"resolve":{"axis":{"x":"independent","y":"independent"}}},
{"height":121,"width":397,"layer":[
{"data":{"name":"S"},"transform":[{"filter":"datum.p==='R2'"}],"mark":{"type":"line","color":"#000","strokeWidth":1.7,"interpolate":"monotone"},"encoding":{"x":{"field":"x","type":"quantitative","scale":{"domain":[600,3800],"reverse":true,"nice":false,"zero":false},"axis":{"orient":"bottom","values":[3750,3500,3250,3000,2750,2500,2250,2000,1750,1500,1250,1000,750],"tickSize":{"condition":{"test":"datum.value % 500 === 0","value":-7},"value":-4},"labels":false,"title":null}},"y":{"field":"y","type":"quantitative","scale":{"domain":[0,8],"nice":false,"zero":false},"axis":{"orient":"left","values":[0.93,1.93,2.93,3.93,4.93,5.93,6.93,7.93],"tickSize":{"condition":{"test":"round(datum.value) % 2 === 1","value":-7},"value":-4},"labels":false,"title":null}},"order":{"field":"x","sort":"descending"}}},
{"data":{"name":"G"},"transform":[{"filter":"datum.p==='R2'"}],"mark":{"type":"rule","color":"#000","strokeWidth":1.6},"encoding":{"x":{"field":"x","type":"quantitative","axis":{"orient":"top","values":[3750,3500,3250,3000,2750,2500,2250,2000,1750,1500,1250,1000,750],"tickSize":{"condition":{"test":"datum.value % 500 === 0","value":-7},"value":-4},"labels":false,"title":null}},"x2":{"field":"x2"},"y":{"field":"y","type":"quantitative","axis":{"orient":"right","values":[0.93,1.93,2.93,3.93,4.93,5.93,6.93,7.93],"tickSize":{"condition":{"test":"round(datum.value) % 2 === 1","value":-7},"value":-4},"labels":false,"title":null}}}},
{"data":{"name":"G"},"transform":[{"filter":"datum.p==='R2'"}],"mark":{"type":"text","align":"left","baseline":"middle","fontSize":20},"encoding":{"x":{"field":"tx","type":"quantitative","axis":null},"y":{"field":"y","type":"quantitative","axis":null},"text":{"field":"t"}}},
{"data":{"name":"D"},"transform":[{"filter":"datum.p==='R2'"}],"mark":{"type":"rule","color":"#333","strokeWidth":1.4,"strokeDash":[2,3]},"encoding":{"x":{"field":"x","type":"quantitative","axis":null},"y":{"field":"y","type":"quantitative","axis":null},"y2":{"field":"y2"}}},
{"data":{"name":"N"},"transform":[{"filter":"datum.p==='R2'"}],"mark":{"type":"text","align":"left","baseline":"middle","fontSize":16},"encoding":{"x":{"field":"x","type":"quantitative","axis":null},"y":{"field":"y","type":"quantitative","axis":null},"text":{"field":"t"},"color":{"field":"c","type":"nominal","scale":{"domain":["red","blue","green","black"],"range":["#ff0000","#1c1cb0","#1f8f1f","#000000"]},"legend":null}}},
{"data":{"name":"A"},"transform":[{"filter":"datum.p==='R2'"}],"mark":{"type":"rule","strokeWidth":1},"encoding":{"x":{"field":"x","type":"quantitative","axis":null},"y":{"field":"y","type":"quantitative","axis":null},"x2":{"field":"x2"},"y2":{"field":"y2"},"color":{"field":"c","type":"nominal","scale":{"domain":["red","blue","green","black"],"range":["#ff0000","#1c1cb0","#1f8f1f","#000000"]},"legend":null}}},
{"data":{"name":"A"},"transform":[{"filter":"datum.p==='R2'"}],"mark":{"type":"point","shape":"triangle-up","filled":true,"size":60,"opacity":1},"encoding":{"x":{"field":"x2","type":"quantitative","axis":null},"y":{"field":"y2","type":"quantitative","axis":null},"angle":{"field":"ang","type":"quantitative","scale":null},"color":{"field":"c","type":"nominal","scale":{"domain":["red","blue","green","black"],"range":["#ff0000","#1c1cb0","#1f8f1f","#000000"]},"legend":null}}}
],"resolve":{"axis":{"x":"independent","y":"independent"}}},
{"height":120,"width":397,"layer":[
{"data":{"name":"S"},"transform":[{"filter":"datum.p==='R3'"}],"mark":{"type":"line","color":"#000","strokeWidth":1.7,"interpolate":"monotone"},"encoding":{"x":{"field":"x","type":"quantitative","scale":{"domain":[600,3800],"reverse":true,"nice":false,"zero":false},"axis":{"orient":"bottom","values":[3750,3500,3250,3000,2750,2500,2250,2000,1750,1500,1250,1000,750],"tickSize":{"condition":{"test":"datum.value % 500 === 0","value":-7},"value":-4},"labels":false,"title":null}},"y":{"field":"y","type":"quantitative","scale":{"domain":[0,8],"nice":false,"zero":false},"axis":{"orient":"left","values":[0.93,1.93,2.93,3.93,4.93,5.93,6.93,7.93],"tickSize":{"condition":{"test":"round(datum.value) % 2 === 1","value":-7},"value":-4},"labels":false,"title":"Absorbance","titleX":-12,"titleY":58,"titleAngle":270,"titleAlign":"center","titleBaseline":"alphabetic"}},"order":{"field":"x","sort":"descending"}}},
{"data":{"name":"G"},"transform":[{"filter":"datum.p==='R3'"}],"mark":{"type":"rule","color":"#000","strokeWidth":1.6},"encoding":{"x":{"field":"x","type":"quantitative","axis":{"orient":"top","values":[3750,3500,3250,3000,2750,2500,2250,2000,1750,1500,1250,1000,750],"tickSize":{"condition":{"test":"datum.value % 500 === 0","value":-7},"value":-4},"labels":false,"title":null}},"x2":{"field":"x2"},"y":{"field":"y","type":"quantitative","axis":{"orient":"right","values":[0.93,1.93,2.93,3.93,4.93,5.93,6.93,7.93],"tickSize":{"condition":{"test":"round(datum.value) % 2 === 1","value":-7},"value":-4},"labels":false,"title":null}}}},
{"data":{"name":"G"},"transform":[{"filter":"datum.p==='R3'"}],"mark":{"type":"text","align":"left","baseline":"middle","fontSize":20},"encoding":{"x":{"field":"tx","type":"quantitative","axis":null},"y":{"field":"y","type":"quantitative","axis":null},"text":{"field":"t"}}},
{"data":{"name":"D"},"transform":[{"filter":"datum.p==='R3'"}],"mark":{"type":"rule","color":"#333","strokeWidth":1.4,"strokeDash":[2,3]},"encoding":{"x":{"field":"x","type":"quantitative","axis":null},"y":{"field":"y","type":"quantitative","axis":null},"y2":{"field":"y2"}}},
{"data":{"name":"N"},"transform":[{"filter":"datum.p==='R3'"}],"mark":{"type":"text","align":"left","baseline":"middle","fontSize":16},"encoding":{"x":{"field":"x","type":"quantitative","axis":null},"y":{"field":"y","type":"quantitative","axis":null},"text":{"field":"t"},"color":{"field":"c","type":"nominal","scale":{"domain":["red","blue","green","black"],"range":["#ff0000","#1c1cb0","#1f8f1f","#000000"]},"legend":null}}},
{"data":{"name":"A"},"transform":[{"filter":"datum.p==='R3'"}],"mark":{"type":"rule","strokeWidth":1},"encoding":{"x":{"field":"x","type":"quantitative","axis":null},"y":{"field":"y","type":"quantitative","axis":null},"x2":{"field":"x2"},"y2":{"field":"y2"},"color":{"field":"c","type":"nominal","scale":{"domain":["red","blue","green","black"],"range":["#ff0000","#1c1cb0","#1f8f1f","#000000"]},"legend":null}}},
{"data":{"name":"A"},"transform":[{"filter":"datum.p==='R3'"}],"mark":{"type":"point","shape":"triangle-up","filled":true,"size":60,"opacity":1},"encoding":{"x":{"field":"x2","type":"quantitative","axis":null},"y":{"field":"y2","type":"quantitative","axis":null},"angle":{"field":"ang","type":"quantitative","scale":null},"color":{"field":"c","type":"nominal","scale":{"domain":["red","blue","green","black"],"range":["#ff0000","#1c1cb0","#1f8f1f","#000000"]},"legend":null}}}
],"resolve":{"axis":{"x":"independent","y":"independent"}}},
{"height":120,"width":397,"layer":[
{"data":{"name":"S"},"transform":[{"filter":"datum.p==='R4'"}],"mark":{"type":"line","color":"#000","strokeWidth":1.7,"interpolate":"monotone"},"encoding":{"x":{"field":"x","type":"quantitative","scale":{"domain":[600,3800],"reverse":true,"nice":false,"zero":false},"axis":{"orient":"bottom","values":[3750,3500,3250,3000,2750,2500,2250,2000,1750,1500,1250,1000,750],"tickSize":{"condition":{"test":"datum.value % 500 === 0","value":-7},"value":-4},"labels":false,"title":null}},"y":{"field":"y","type":"quantitative","scale":{"domain":[0,8],"nice":false,"zero":false},"axis":{"orient":"left","values":[0.93,1.93,2.93,3.93,4.93,5.93,6.93,7.93],"tickSize":{"condition":{"test":"round(datum.value) % 2 === 1","value":-7},"value":-4},"labels":false,"title":null}},"order":{"field":"x","sort":"descending"}}},
{"data":{"name":"G"},"transform":[{"filter":"datum.p==='R4'"}],"mark":{"type":"rule","color":"#000","strokeWidth":1.6},"encoding":{"x":{"field":"x","type":"quantitative","axis":{"orient":"top","values":[3750,3500,3250,3000,2750,2500,2250,2000,1750,1500,1250,1000,750],"tickSize":{"condition":{"test":"datum.value % 500 === 0","value":-7},"value":-4},"labels":false,"title":null}},"x2":{"field":"x2"},"y":{"field":"y","type":"quantitative","axis":{"orient":"right","values":[0.93,1.93,2.93,3.93,4.93,5.93,6.93,7.93],"tickSize":{"condition":{"test":"round(datum.value) % 2 === 1","value":-7},"value":-4},"labels":false,"title":null}}}},
{"data":{"name":"G"},"transform":[{"filter":"datum.p==='R4'"}],"mark":{"type":"text","align":"left","baseline":"middle","fontSize":20},"encoding":{"x":{"field":"tx","type":"quantitative","axis":null},"y":{"field":"y","type":"quantitative","axis":null},"text":{"field":"t"}}},
{"data":{"name":"D"},"transform":[{"filter":"datum.p==='R4'"}],"mark":{"type":"rule","color":"#333","strokeWidth":1.4,"strokeDash":[2,3]},"encoding":{"x":{"field":"x","type":"quantitative","axis":null},"y":{"field":"y","type":"quantitative","axis":null},"y2":{"field":"y2"}}},
{"data":{"name":"N"},"transform":[{"filter":"datum.p==='R4'"}],"mark":{"type":"text","align":"left","baseline":"middle","fontSize":16},"encoding":{"x":{"field":"x","type":"quantitative","axis":null},"y":{"field":"y","type":"quantitative","axis":null},"text":{"field":"t"},"color":{"field":"c","type":"nominal","scale":{"domain":["red","blue","green","black"],"range":["#ff0000","#1c1cb0","#1f8f1f","#000000"]},"legend":null}}},
{"data":{"name":"A"},"transform":[{"filter":"datum.p==='R4'"}],"mark":{"type":"rule","strokeWidth":1},"encoding":{"x":{"field":"x","type":"quantitative","axis":null},"y":{"field":"y","type":"quantitative","axis":null},"x2":{"field":"x2"},"y2":{"field":"y2"},"color":{"field":"c","type":"nominal","scale":{"domain":["red","blue","green","black"],"range":["#ff0000","#1c1cb0","#1f8f1f","#000000"]},"legend":null}}},
{"data":{"name":"A"},"transform":[{"filter":"datum.p==='R4'"}],"mark":{"type":"point","shape":"triangle-up","filled":true,"size":60,"opacity":1},"encoding":{"x":{"field":"x2","type":"quantitative","axis":null},"y":{"field":"y2","type":"quantitative","axis":null},"angle":{"field":"ang","type":"quantitative","scale":null},"color":{"field":"c","type":"nominal","scale":{"domain":["red","blue","green","black"],"range":["#ff0000","#1c1cb0","#1f8f1f","#000000"]},"legend":null}}}
],"resolve":{"axis":{"x":"independent","y":"independent"}}},
{"height":122,"width":397,"layer":[
{"data":{"name":"S"},"transform":[{"filter":"datum.p==='R5'"}],"mark":{"type":"line","color":"#000","strokeWidth":1.7,"interpolate":"monotone"},"encoding":{"x":{"field":"x","type":"quantitative","scale":{"domain":[600,3800],"reverse":true,"nice":false,"zero":false},"axis":{"orient":"bottom","values":[3750,3500,3250,3000,2750,2500,2250,2000,1750,1500,1250,1000,750],"tickSize":{"condition":{"test":"datum.value % 500 === 0","value":-7},"value":-4},"format":"d","labelExpr":"datum.value % 500 === 0 ? datum.label : ''","labelBaseline":"alphabetic","labelPadding":29,"title":"Wavenumber, cm⁻¹","titleX":198.5,"titleY":52,"titleAlign":"center","titleBaseline":"alphabetic"}},"y":{"field":"y","type":"quantitative","scale":{"domain":[0,8],"nice":false,"zero":false},"axis":{"orient":"left","values":[0.93,1.93,2.93,3.93,4.93,5.93,6.93,7.93],"tickSize":{"condition":{"test":"round(datum.value) % 2 === 1","value":-7},"value":-4},"labels":false,"title":null}},"order":{"field":"x","sort":"descending"}}},
{"data":{"name":"G"},"transform":[{"filter":"datum.p==='R5'"}],"mark":{"type":"rule","color":"#000","strokeWidth":1.6},"encoding":{"x":{"field":"x","type":"quantitative","axis":{"orient":"top","values":[3750,3500,3250,3000,2750,2500,2250,2000,1750,1500,1250,1000,750],"tickSize":{"condition":{"test":"datum.value % 500 === 0","value":-7},"value":-4},"labels":false,"title":null}},"x2":{"field":"x2"},"y":{"field":"y","type":"quantitative","axis":{"orient":"right","values":[0.93,1.93,2.93,3.93,4.93,5.93,6.93,7.93],"tickSize":{"condition":{"test":"round(datum.value) % 2 === 1","value":-7},"value":-4},"labels":false,"title":null}}}},
{"data":{"name":"G"},"transform":[{"filter":"datum.p==='R5'"}],"mark":{"type":"text","align":"left","baseline":"middle","fontSize":20},"encoding":{"x":{"field":"tx","type":"quantitative","axis":null},"y":{"field":"y","type":"quantitative","axis":null},"text":{"field":"t"}}},
{"data":{"name":"D"},"transform":[{"filter":"datum.p==='R5'"}],"mark":{"type":"rule","color":"#333","strokeWidth":1.4,"strokeDash":[2,3]},"encoding":{"x":{"field":"x","type":"quantitative","axis":null},"y":{"field":"y","type":"quantitative","axis":null},"y2":{"field":"y2"}}},
{"data":{"name":"N"},"transform":[{"filter":"datum.p==='R5'"}],"mark":{"type":"text","align":"left","baseline":"middle","fontSize":16},"encoding":{"x":{"field":"x","type":"quantitative","axis":null},"y":{"field":"y","type":"quantitative","axis":null},"text":{"field":"t"},"color":{"field":"c","type":"nominal","scale":{"domain":["red","blue","green","black"],"range":["#ff0000","#1c1cb0","#1f8f1f","#000000"]},"legend":null}}},
{"data":{"name":"A"},"transform":[{"filter":"datum.p==='R5'"}],"mark":{"type":"rule","strokeWidth":1},"encoding":{"x":{"field":"x","type":"quantitative","axis":null},"y":{"field":"y","type":"quantitative","axis":null},"x2":{"field":"x2"},"y2":{"field":"y2"},"color":{"field":"c","type":"nominal","scale":{"domain":["red","blue","green","black"],"range":["#ff0000","#1c1cb0","#1f8f1f","#000000"]},"legend":null}}},
{"data":{"name":"A"},"transform":[{"filter":"datum.p==='R5'"}],"mark":{"type":"point","shape":"triangle-up","filled":true,"size":60,"opacity":1},"encoding":{"x":{"field":"x2","type":"quantitative","axis":null},"y":{"field":"y2","type":"quantitative","axis":null},"angle":{"field":"ang","type":"quantitative","scale":null},"color":{"field":"c","type":"nominal","scale":{"domain":["red","blue","green","black"],"range":["#ff0000","#1c1cb0","#1f8f1f","#000000"]},"legend":null}}}
],"resolve":{"axis":{"x":"independent","y":"independent"}}}
],"spacing":0,"bounds":"flush"}
],"spacing":39,"bounds":"full"
}
